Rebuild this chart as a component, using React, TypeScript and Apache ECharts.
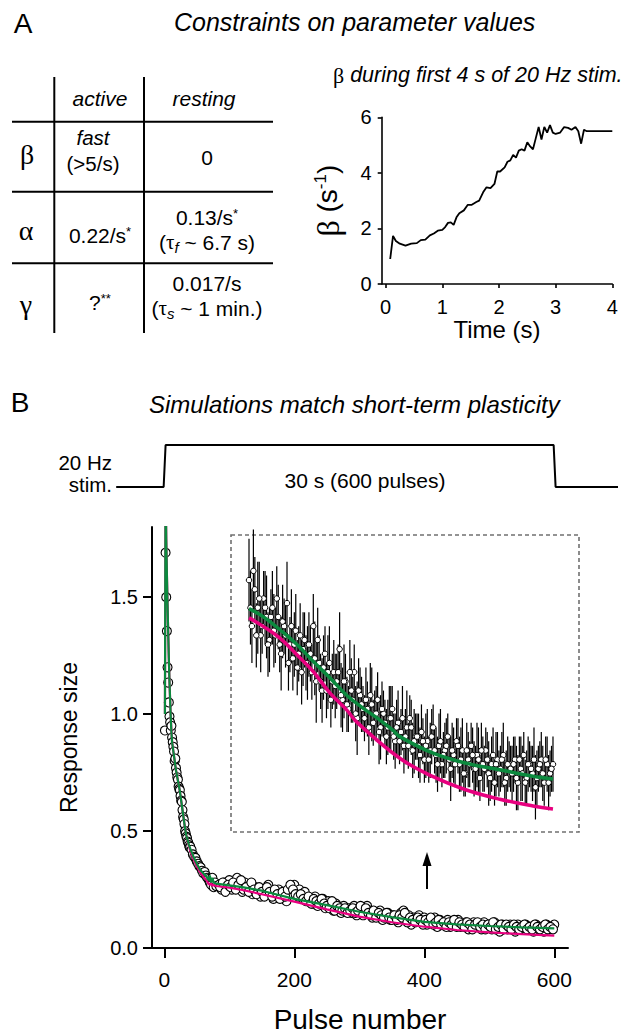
import React, { useEffect, useRef } from "react";
import * as echarts from "echarts";

const FONT = "Liberation Sans";
const SERIF = "Liberation Serif";

// ---------- Panel A (right): beta during first 4 s of 20 Hz stim ----------
const betaTime = [0.08, 0.13, 0.18, 0.25, 0.35, 0.45, 0.55, 0.62, 0.7, 0.78, 0.85, 0.92, 1.0, 1.05, 1.1, 1.15, 1.2, 1.25, 1.3, 1.38, 1.45, 1.52, 1.6, 1.65, 1.72, 1.78, 1.85, 1.92, 1.97, 2.02, 2.1, 2.15, 2.2, 2.25, 2.3, 2.35, 2.4, 2.45, 2.5, 2.55, 2.6, 2.65, 2.7, 2.75, 2.8, 2.85, 2.9, 2.95, 3.0, 3.08, 3.15, 3.22, 3.28, 3.35, 3.4, 3.45, 3.5, 3.55, 4.0];
const betaValue = [0.9, 1.73, 1.55, 1.45, 1.38, 1.45, 1.47, 1.58, 1.6, 1.75, 1.82, 1.92, 1.95, 2.05, 2.2, 2.22, 2.13, 2.4, 2.55, 2.65, 2.85, 2.85, 2.95, 3.0, 3.3, 3.48, 3.45, 3.6, 4.05, 4.05, 4.2, 4.4, 4.45, 4.65, 4.55, 4.8, 4.85, 4.8, 5.1, 4.95, 4.85, 5.25, 5.65, 5.2, 5.65, 5.45, 5.72, 5.45, 5.4, 5.45, 5.65, 5.62, 5.55, 5.65, 5.5, 5.05, 5.55, 5.5, 5.5];
const betaTicksX = [0, 1, 2, 3, 4];
const betaTicksY = [0, 2, 4, 6];

// ---------- Panel B: response size vs pulse number ----------
// pulses 1..40
const mainEarly = [0.93, 1.69, 1.5, 1.355, 1.2, 1.135, 1.05, 0.99, 0.965, 0.93, 0.95, 0.9, 0.88, 0.86, 0.84, 0.8, 0.81, 0.77, 0.75, 0.73, 0.72, 0.69, 0.68, 0.675, 0.65, 0.63, 0.625, 0.59, 0.56, 0.55, 0.53, 0.5, 0.49, 0.476, 0.47, 0.455, 0.45, 0.44, 0.43, 0.433];
// pulses 42..80 step 2
const mainMid = [0.42, 0.4, 0.39, 0.385, 0.37, 0.36, 0.35, 0.345, 0.33, 0.32, 0.325, 0.31, 0.3, 0.295, 0.28, 0.27, 0.3, 0.26, 0.28, 0.265];
// pulses 84..600 step 4
const mainLate = [
  0.27, 0.25, 0.28, 0.26, 0.29, 0.25, 0.27, 0.3, 0.26, 0.24,
  0.28, 0.25, 0.27, 0.23, 0.26, 0.24, 0.22, 0.25, 0.23, 0.27,
  0.24, 0.21, 0.23, 0.25, 0.22, 0.24, 0.2, 0.23, 0.26, 0.27,
  0.24, 0.25, 0.22, 0.24, 0.2, 0.21, 0.19, 0.22, 0.18, 0.2,
  0.21, 0.17, 0.2, 0.18, 0.16, 0.19, 0.17, 0.15, 0.18, 0.16,
  0.17, 0.15, 0.18, 0.14, 0.16, 0.17, 0.15, 0.18, 0.16, 0.13,
  0.15, 0.14, 0.16, 0.12, 0.14, 0.15, 0.12, 0.14, 0.13, 0.11,
  0.15, 0.16, 0.12, 0.14, 0.1, 0.13, 0.12, 0.14, 0.11, 0.13,
  0.1, 0.12, 0.11, 0.13, 0.09, 0.12, 0.11, 0.1, 0.12, 0.09,
  0.11, 0.1, 0.12, 0.09, 0.1, 0.11, 0.08, 0.1, 0.11, 0.09,
  0.1, 0.08, 0.11, 0.09, 0.1, 0.08, 0.11, 0.09, 0.07, 0.1,
  0.09, 0.08, 0.1, 0.09, 0.07, 0.1, 0.08, 0.09, 0.1, 0.08,
  0.09, 0.07, 0.1, 0.08, 0.09, 0.07, 0.1, 0.08, 0.09, 0.1,
];
// pulses 86..598 step 4
const mainLate2 = [
  0.26, 0.28, 0.24, 0.27, 0.26, 0.28, 0.25, 0.27, 0.29, 0.25,
  0.26, 0.24, 0.28, 0.25, 0.23, 0.26, 0.24, 0.22, 0.26, 0.24,
  0.22, 0.25, 0.23, 0.21, 0.24, 0.22, 0.25, 0.27, 0.25, 0.23,
  0.22, 0.23, 0.21, 0.2, 0.22, 0.19, 0.21, 0.2, 0.19, 0.21,
  0.19, 0.18, 0.17, 0.2, 0.16, 0.18, 0.17, 0.16, 0.17, 0.15,
  0.16, 0.17, 0.15, 0.16, 0.18, 0.14, 0.17, 0.15, 0.14, 0.16,
  0.13, 0.15, 0.14, 0.13, 0.15, 0.13, 0.12, 0.14, 0.12, 0.14,
  0.13, 0.15, 0.11, 0.13, 0.12, 0.11, 0.13, 0.12, 0.1, 0.12,
  0.11, 0.13, 0.1, 0.11, 0.12, 0.1, 0.11, 0.09, 0.11, 0.1,
  0.12, 0.09, 0.11, 0.1, 0.09, 0.11, 0.1, 0.08, 0.1, 0.11,
  0.09, 0.1, 0.08, 0.1, 0.09, 0.11, 0.08, 0.09, 0.1, 0.08,
  0.1, 0.09, 0.08, 0.1, 0.09, 0.08, 0.09, 0.1, 0.08, 0.09,
  0.08, 0.1, 0.09, 0.08, 0.09, 0.1, 0.08, 0.09, 0.08,
];
const greenPulses = [1, 2, 3, 4, 5, 6, 7, 8, 9, 10, 11, 12, 14, 16, 18, 20, 22, 24, 26, 28, 30, 32, 34, 36, 38, 40, 45, 50, 55, 60, 65, 68, 70, 72, 74, 76, 80, 100, 120, 150, 200, 250, 300, 350, 400, 450, 500, 550, 600];
const greenValues = [1.0, 2.0, 1.75, 1.6, 1.47, 1.35, 1.24, 1.14, 1.06, 0.98, 0.92, 0.88, 0.84, 0.8, 0.76, 0.73, 0.7, 0.67, 0.63, 0.59, 0.55, 0.51, 0.48, 0.46, 0.44, 0.425, 0.39, 0.36, 0.335, 0.32, 0.305, 0.29, 0.31, 0.28, 0.3, 0.28, 0.275, 0.268, 0.26, 0.245, 0.21, 0.183, 0.155, 0.132, 0.112, 0.101, 0.094, 0.088, 0.084];
const pinkPulses = [1, 2, 3, 4, 5, 6, 7, 8, 9, 10, 12, 14, 16, 18, 20, 24, 28, 32, 36, 40, 45, 50, 55, 60, 65, 68, 70, 72, 74, 76, 80, 100, 120, 150, 200, 250, 300, 350, 400, 450, 500, 550, 600];
const pinkValues = [1.0, 2.0, 1.75, 1.6, 1.47, 1.35, 1.24, 1.14, 1.06, 0.98, 0.88, 0.84, 0.8, 0.76, 0.73, 0.67, 0.59, 0.51, 0.455, 0.415, 0.38, 0.35, 0.325, 0.305, 0.29, 0.275, 0.27, 0.28, 0.265, 0.27, 0.265, 0.258, 0.248, 0.23, 0.198, 0.165, 0.134, 0.11, 0.091, 0.077, 0.067, 0.059, 0.053];
const pulseTicks = [0, 200, 400, 600];
const responseTicks = [0, 0.5, 1.0, 1.5];

// stimulus trace (pulse number, on/off)
const stimPulses = [-74, -1, 2, 599, 602, 698];
const stimLevels = [0, 0, 1, 1, 0, 0];

// ---------- Inset (magnified) ----------
// pulses 80..600 step 5
const insetValues = [
  0.3, 0.25, 0.29, 0.27, 0.24, 0.28, 0.26, 0.235, 0.27, 0.24,
  0.26, 0.22, 0.25, 0.275, 0.23, 0.215, 0.245, 0.22, 0.2, 0.235,
  0.21, 0.22, 0.25, 0.19, 0.21, 0.18, 0.22, 0.2, 0.17, 0.2,
  0.19, 0.225, 0.17, 0.19, 0.16, 0.18, 0.2, 0.15, 0.175, 0.16,
  0.17, 0.14, 0.165, 0.155, 0.17, 0.14, 0.155, 0.13, 0.15, 0.16,
  0.125, 0.145, 0.135, 0.12, 0.14, 0.15, 0.115, 0.13, 0.12, 0.135,
  0.105, 0.125, 0.115, 0.14, 0.11, 0.12, 0.1, 0.115, 0.13, 0.095,
  0.11, 0.125, 0.1, 0.115, 0.09, 0.105, 0.12, 0.095, 0.11, 0.085,
  0.1, 0.115, 0.09, 0.1, 0.08, 0.105, 0.095, 0.11, 0.085, 0.1,
  0.09, 0.105, 0.08, 0.095, 0.11, 0.085, 0.1, 0.09, 0.075, 0.095,
  0.105, 0.08, 0.1, 0.09, 0.1,
];
const insetErrors = [
  0.045, 0.04, 0.035, 0.05, 0.04, 0.03, 0.045, 0.035, 0.04, 0.03,
  0.035, 0.04, 0.03, 0.045, 0.03, 0.035, 0.04, 0.03, 0.035, 0.03,
  0.04, 0.03, 0.035, 0.045, 0.03, 0.035, 0.03, 0.04, 0.03, 0.035,
  0.03, 0.04, 0.035, 0.03, 0.025, 0.035, 0.03, 0.04, 0.03, 0.025,
  0.035, 0.03, 0.04, 0.025, 0.03, 0.035, 0.025, 0.03, 0.035, 0.025,
  0.03, 0.035, 0.025, 0.03, 0.04, 0.025, 0.03, 0.025, 0.035, 0.03,
  0.025, 0.035, 0.03, 0.025, 0.03, 0.035, 0.025, 0.03, 0.025, 0.035,
  0.03, 0.025, 0.03, 0.035, 0.025, 0.03, 0.025, 0.03, 0.035, 0.025,
  0.03, 0.025, 0.035, 0.03, 0.025, 0.03, 0.025, 0.035, 0.03, 0.025,
  0.03, 0.025, 0.03, 0.035, 0.025, 0.03, 0.025, 0.03, 0.035, 0.025,
  0.03, 0.025, 0.03, 0.025, 0.03,
];
// pulses 82.5..597.5 step 5
const insetValues2 = [
  0.27, 0.31, 0.24, 0.28, 0.25, 0.27, 0.23, 0.26, 0.245, 0.28,
  0.23, 0.255, 0.24, 0.21, 0.25, 0.23, 0.205, 0.24, 0.225, 0.21,
  0.23, 0.2, 0.215, 0.235, 0.19, 0.205, 0.18, 0.21, 0.19, 0.185,
  0.2, 0.175, 0.19, 0.165, 0.2, 0.17, 0.155, 0.18, 0.165, 0.15,
  0.16, 0.175, 0.145, 0.155, 0.135, 0.16, 0.145, 0.14, 0.15, 0.13,
  0.14, 0.125, 0.15, 0.13, 0.12, 0.14, 0.125, 0.13, 0.11, 0.125,
  0.12, 0.105, 0.13, 0.115, 0.1, 0.125, 0.11, 0.12, 0.105, 0.115,
  0.1, 0.12, 0.105, 0.09, 0.115, 0.1, 0.11, 0.095, 0.105, 0.115,
  0.095, 0.105, 0.085, 0.11, 0.1, 0.09, 0.105, 0.08, 0.1, 0.095,
  0.1, 0.085, 0.105, 0.09, 0.08, 0.1, 0.095, 0.105, 0.085, 0.1,
  0.09, 0.105, 0.08, 0.095,
];
const insetErrors2 = [
  0.04, 0.045, 0.035, 0.04, 0.03, 0.04, 0.035, 0.03, 0.04, 0.035,
  0.03, 0.04, 0.035, 0.03, 0.04, 0.035, 0.03, 0.035, 0.04, 0.03,
  0.035, 0.03, 0.04, 0.035, 0.03, 0.035, 0.03, 0.04, 0.03, 0.035,
  0.03, 0.035, 0.04, 0.03, 0.035, 0.025, 0.03, 0.035, 0.03, 0.025,
  0.03, 0.035, 0.025, 0.03, 0.035, 0.03, 0.025, 0.03, 0.035, 0.025,
  0.03, 0.025, 0.035, 0.03, 0.025, 0.03, 0.035, 0.025, 0.03, 0.025,
  0.035, 0.025, 0.03, 0.025, 0.03, 0.035, 0.025, 0.03, 0.025, 0.03,
  0.025, 0.03, 0.035, 0.025, 0.03, 0.025, 0.03, 0.025, 0.035, 0.03,
  0.025, 0.03, 0.025, 0.03, 0.035, 0.025, 0.03, 0.025, 0.03, 0.025,
  0.03, 0.035, 0.025, 0.03, 0.025, 0.03, 0.025, 0.035, 0.03, 0.025,
  0.03, 0.025, 0.03, 0.025,
];
const insetGreenPulses = [80, 105, 133, 162, 190, 219, 247, 275, 304, 326, 338, 395, 452, 509, 566, 600];
const insetGreenValues = [0.269, 0.26, 0.246, 0.23, 0.2115, 0.1935, 0.175, 0.161, 0.148, 0.137, 0.13, 0.112, 0.101, 0.094, 0.087, 0.084];
const insetPinkPulses = [80, 105, 133, 162, 190, 219, 247, 264, 338, 395, 452, 509, 566, 600];
const insetPinkValues = [0.259, 0.2495, 0.237, 0.219, 0.2006, 0.177, 0.159, 0.146, 0.1065, 0.0865, 0.072, 0.062, 0.0547, 0.0514];

const GREEN = "#0b8a3e";
const PINK = "#e8007f";

function zip(xs: number[], ys: number[]) {
  return xs.map((x, i) => [x, ys[i]]);
}

function buildOption() {
  const mainPoints: number[][] = [];
  mainEarly.forEach((v, i) => mainPoints.push([i + 1, v]));
  mainMid.forEach((v, i) => mainPoints.push([42 + 2 * i, v]));
  mainLate.forEach((v, i) => mainPoints.push([84 + 4 * i, v]));
  mainLate2.forEach((v, i) => mainPoints.push([86 + 4 * i, v]));
  const insetPoints = insetValues.map((v, i) => [80 + 5 * i, v, insetErrors[i]]);
  insetValues2.forEach((v, i) => insetPoints.push([82.5 + 5 * i, v, insetErrors2[i]]));

  const black = "#000";
  const txt = (text: string, x: number, y: number, extra: any = {}) => ({
    type: "text",
    x,
    y,
    silent: true,
    style: {
      text,
      fill: black,
      fontFamily: FONT,
      fontSize: 21,
      align: "center",
      verticalAlign: "middle",
      ...extra,
    },
  });
  const hline = (x1: number, y1: number, x2: number, y2: number, w = 2, extra: any = {}) => ({
    type: "line",
    silent: true,
    shape: { x1, y1, x2, y2 },
    style: { stroke: black, lineWidth: w, ...extra },
  });
  const richTable = {
    sup: { fontSize: 13, fontFamily: FONT, verticalAlign: "top", fill: black },
    sub: { fontSize: 15, fontFamily: FONT, fontStyle: "italic", verticalAlign: "bottom", fill: black, padding: [10, 0, 0, 0] },
    g: { fontSize: 21, fontFamily: SERIF, fill: black },
  };

  const graphics: any[] = [
    txt("A", 23, 23, { fontSize: 28 }),
    txt("Constraints on parameter values", 174, 22, { fontSize: 25, fontStyle: "italic", align: "left" }),
    // table grid
    hline(54.3, 77, 54.3, 333),
    hline(144, 77, 144, 333),
    hline(12, 121.7, 273, 121.7),
    hline(12, 191.7, 273, 191.7),
    hline(12, 263.3, 273, 263.3),
    txt("active", 100, 98, { fontStyle: "italic" }),
    txt("resting", 204, 98, { fontStyle: "italic" }),
    txt("β", 27, 154, { fontFamily: SERIF, fontSize: 28 }),
    txt("α", 26, 230, { fontFamily: SERIF, fontSize: 28 }),
    txt("γ", 26, 304, { fontFamily: SERIF, fontSize: 28 }),
    txt("fast", 93, 137, { fontStyle: "italic", fontSize: 20.5 }),
    txt("(>5/s)", 93, 163, { fontSize: 20.5 }),
    txt("0", 207, 157),
    txt("0.22/s{sup|*}", 100, 235, { rich: richTable }),
    txt("0.13/s{sup|*}", 207, 217, { rich: richTable }),
    txt("({g|τ}{sub|f} ~ 6.7 s)", 207, 242, { rich: richTable }),
    txt("?{sup|**}", 100, 302, { rich: richTable }),
    txt("0.017/s", 207, 283),
    txt("({g|τ}{sub|s} ~ 1 min.)", 207, 308, { rich: richTable }),
    // beta panel title
    txt("{g|β} during first 4 s of 20 Hz stim.", 333, 75, {
      fontSize: 21.5,
      fontStyle: "italic",
      align: "left",
      rich: { g: { fontFamily: SERIF, fontSize: 22, fontStyle: "normal", fill: black } },
    }),
    // panel B
    txt("B", 20, 402, { fontSize: 28 }),
    txt("Simulations match short-term plasticity", 149, 404, { fontSize: 24, fontStyle: "italic", align: "left" }),
    txt("20 Hz", 112, 462, { fontSize: 20.5, align: "right" }),
    txt("stim.", 112, 484, { fontSize: 20.5, align: "right" }),
    txt("30 s (600 pulses)", 365, 480, { fontSize: 21 }),
    // inset dashed frame
    {
      type: "rect",
      silent: true,
      shape: { x: 231, y: 535, width: 348, height: 297 },
      style: { fill: "none", stroke: "#707070", lineWidth: 1.6, lineDash: [4, 3] },
    },
    // arrow
    hline(427, 889, 427, 862, 2),
    {
      type: "polygon",
      silent: true,
      shape: { points: [[427, 852], [422.5, 866], [431.5, 866]] },
      style: { fill: black },
    },
  ];

  const axisLine = (w: number) => ({ onZero: false, lineStyle: { color: black, width: w } });

  return {
    animation: false,
    backgroundColor: "#fff",
    textStyle: { fontFamily: FONT, color: black },
    grid: [
      { left: 381.7, top: 117.3, width: 230.6, height: 166.7 },
      { left: 152, top: 527, width: 416, height: 421 },
      { left: 231, top: 535, width: 348, height: 297 },
      { left: 116, top: 445, width: 502, height: 42 },
    ],
    xAxis: [
      {
        gridIndex: 0,
        type: "value",
        min: -0.07,
        max: 4,
        axisLine: axisLine(1.6),
        axisTick: { customValues: betaTicksX, length: 4, lineStyle: { color: black, width: 1.6 } },
        axisLabel: { customValues: betaTicksX, fontSize: 20, color: black, margin: 13, fontFamily: FONT },
        splitLine: { show: false },
        name: "Time (s)",
        nameLocation: "middle",
        nameGap: 33,
        nameTextStyle: { fontSize: 24, color: black, fontFamily: FONT },
      },
      {
        gridIndex: 1,
        type: "value",
        min: -18.9,
        max: 621.1,
        axisLine: axisLine(2),
        axisTick: { customValues: pulseTicks, length: 10, lineStyle: { color: black, width: 2 } },
        axisLabel: { customValues: pulseTicks, fontSize: 21, color: black, margin: 21, fontFamily: FONT },
        splitLine: { show: false },
        name: "Pulse number",
        nameLocation: "middle",
        nameGap: 57,
        nameTextStyle: { fontSize: 28, color: black, fontFamily: FONT },
      },
      { gridIndex: 2, type: "value", min: 49.2, max: 644.5, show: false },
      { gridIndex: 3, type: "value", min: -74.3, max: 698, show: false },
    ],
    yAxis: [
      {
        gridIndex: 0,
        type: "value",
        min: 0,
        max: 6,
        axisLine: axisLine(1.6),
        axisTick: { customValues: betaTicksY, length: 4, lineStyle: { color: black, width: 1.6 } },
        axisLabel: { customValues: betaTicksY, fontSize: 20, color: black, margin: 10, fontFamily: FONT },
        splitLine: { show: false },
        name: "{g|β} (s{sup|-1})",
        nameLocation: "middle",
        nameGap: 38,
        nameTextStyle: {
          fontSize: 28,
          color: black,
          fontFamily: FONT,
          rich: {
            g: { fontFamily: SERIF, fontSize: 32, color: black },
            sup: { fontSize: 17, fontFamily: FONT, verticalAlign: "top", color: black },
          },
        },
      },
      {
        gridIndex: 1,
        type: "value",
        min: 0,
        max: 1.8,
        axisLine: axisLine(2),
        axisTick: { customValues: responseTicks, length: 9, lineStyle: { color: black, width: 2 } },
        axisLabel: {
          customValues: responseTicks,
          fontSize: 20,
          color: black,
          margin: 14,
          fontFamily: FONT,
          formatter: (v: number) => v.toFixed(1),
        },
        splitLine: { show: false },
        name: "Response size",
        nameLocation: "middle",
        nameGap: 72,
        nameTextStyle: { fontSize: 23, color: black, fontFamily: FONT },
      },
      { gridIndex: 2, type: "value", min: 0.0264, max: 0.349, show: false },
      { gridIndex: 3, type: "value", min: 0, max: 1, show: false },
    ],
    series: [
      {
        type: "line",
        xAxisIndex: 0,
        yAxisIndex: 0,
        data: zip(betaTime, betaValue),
        showSymbol: false,
        symbol: "none",
        lineStyle: { color: black, width: 1.8 },
      },
      {
        type: "scatter",
        xAxisIndex: 1,
        yAxisIndex: 1,
        data: mainPoints,
        symbol: "circle",
        symbolSize: 9,
        itemStyle: { color: "#fff", borderColor: black, borderWidth: 1.1, opacity: 1 },
      },
      {
        type: "line",
        xAxisIndex: 1,
        yAxisIndex: 1,
        data: zip(pinkPulses, pinkValues),
        showSymbol: false,
        symbol: "none",
        lineStyle: { color: PINK, width: 2.2 },
      },
      {
        type: "line",
        xAxisIndex: 1,
        yAxisIndex: 1,
        data: zip(greenPulses, greenValues),
        showSymbol: false,
        symbol: "none",
        lineStyle: { color: GREEN, width: 2.2 },
      },
      {
        type: "custom",
        xAxisIndex: 2,
        yAxisIndex: 2,
        data: insetPoints,
        encode: { x: 0, y: 1 },
        renderItem: (params: any, api: any) => {
          const x = api.value(0);
          const y = api.value(1);
          const e = api.value(2);
          const lo = api.coord([x, y - e]);
          const hi = api.coord([x, y + e]);
          return {
            type: "line",
            shape: { x1: lo[0], y1: lo[1], x2: hi[0], y2: hi[1] },
            style: { stroke: "#000", lineWidth: 1.2 },
          };
        },
      },
      {
        type: "scatter",
        xAxisIndex: 2,
        yAxisIndex: 2,
        data: insetPoints.map((p) => [p[0], p[1]]),
        symbol: "circle",
        symbolSize: 5.5,
        itemStyle: { color: "#fff", borderColor: black, borderWidth: 1, opacity: 1 },
      },
      {
        type: "line",
        xAxisIndex: 2,
        yAxisIndex: 2,
        data: zip(insetPinkPulses, insetPinkValues),
        showSymbol: false,
        symbol: "none",
        smooth: 0.4,
        lineStyle: { color: PINK, width: 3.5 },
      },
      {
        type: "line",
        xAxisIndex: 2,
        yAxisIndex: 2,
        data: zip(insetGreenPulses, insetGreenValues),
        showSymbol: false,
        symbol: "none",
        smooth: 0.4,
        lineStyle: { color: GREEN, width: 3.5 },
      },
      {
        type: "line",
        xAxisIndex: 3,
        yAxisIndex: 3,
        data: zip(stimPulses, stimLevels),
        showSymbol: false,
        symbol: "none",
        lineStyle: { color: black, width: 2 },
      },
    ],
    graphic: { elements: graphics },
  };
}

export default function App() {
  const ref = useRef<HTMLDivElement>(null);
  useEffect(() => {
    if (!ref.current) return;
    const chart = echarts.init(ref.current, null, { renderer: "svg" });
    chart.setOption(buildOption() as any);
    return () => chart.dispose();
  }, []);
  return (
    <div
      ref={ref}
      style={{ position: "absolute", left: 0, top: 0, width: 636, height: 1035, background: "#fff" }}
    />
  );
}
